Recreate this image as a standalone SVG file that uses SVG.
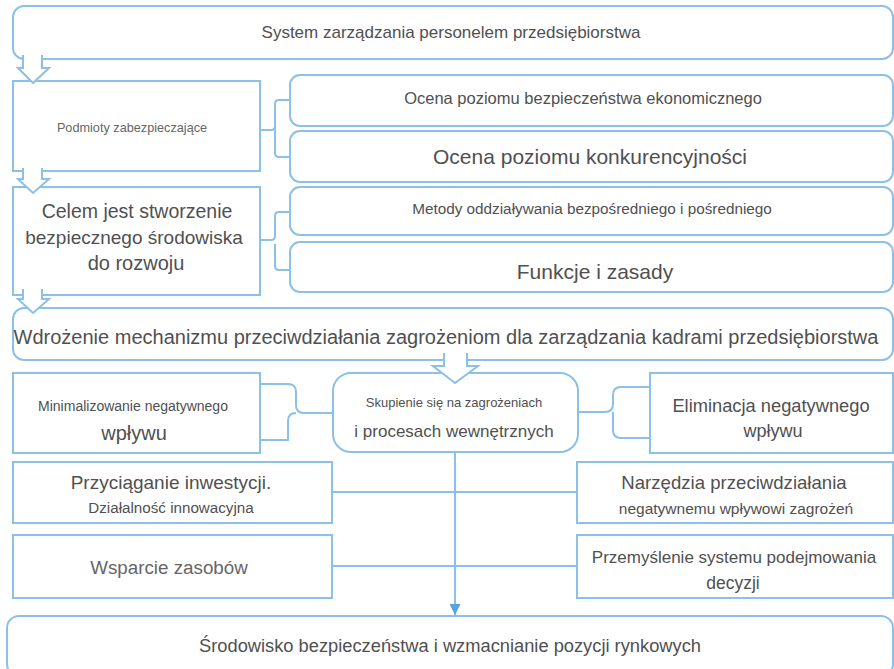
<svg xmlns="http://www.w3.org/2000/svg" width="894" height="669" viewBox="0 0 894 669">
<defs>
<style>
.box{fill:#fff;stroke:#8cc0e6;stroke-width:2}
.ln{fill:none;stroke:#8cc0e6;stroke-width:2}
.arr{fill:#fff;stroke:#8cc0e6;stroke-width:2;stroke-linejoin:miter}
text{font-family:"Liberation Sans",Arial,sans-serif;fill:#505050;text-anchor:middle}
.lt{fill:#666}
</style>
<marker id="tri" viewBox="0 0 10 10" refX="10" refY="5" markerWidth="13" markerHeight="11" markerUnits="userSpaceOnUse" orient="auto">
<path d="M0,0 L10,5 L0,10 Z" fill="#5aa3dc"/>
</marker>
</defs>
<rect width="894" height="669" fill="#fff"/>

<g id="connectors">
<path class="ln" d="M260,130 H271 Q275,130 275,126 V104 Q275,100 279,100 H290 M275,126 V153 Q275,157 279,157 H290"/>
<path class="ln" d="M260,240 H271 Q275,240 275,236 V216 Q275,212 279,212 H290 M275,244 V266 Q275,270 279,270 H290"/>
<path class="ln" d="M260,384 H288 Q296,384 296,392 V405 Q296,413 304,413 H333 M296,413 Q288,413 288,421 V440 H260"/>
<path class="ln" d="M578,412 H605 Q613,412 613,404 V395 Q613,387 621,387 H650 M613,412 Q613,420 613,428 V430 Q613,438 621,438 H650"/>
<path class="ln" d="M332,492 H577"/>
<path class="ln" d="M332,566 H577"/>
<path class="ln" d="M455,452 V615" marker-end="url(#tri)"/>
</g>

<g id="n-system">
<rect class="box" x="13" y="6" width="880" height="53" rx="11"/>
<text x="451" y="38" font-size="17">System zarządzania personelem przedsiębiorstwa</text>
</g>

<g id="n-podmioty">
<rect class="box" x="13" y="81" width="247" height="90"/>
<text class="lt" x="132" y="132" font-size="12.7">Podmioty zabezpieczające</text>
</g>

<g id="n-ocena1">
<rect class="box" x="290" y="75" width="603" height="51" rx="10"/>
<text x="583" y="104" font-size="16.5">Ocena poziomu bezpieczeństwa ekonomicznego</text>
</g>

<g id="n-ocena2">
<rect class="box" x="290" y="131" width="603" height="51" rx="10"/>
<text x="590" y="164" font-size="21">Ocena poziomu konkurencyjności</text>
</g>

<g id="n-celem">
<rect class="box" x="13" y="187" width="247" height="108"/>
<text x="137" y="218" font-size="19.5">Celem jest stworzenie</text>
<text x="134" y="244" font-size="19">bezpiecznego środowiska</text>
<text x="136" y="270" font-size="20">do rozwoju</text>
</g>

<g id="n-metody">
<rect class="box" x="290" y="187" width="603" height="48" rx="10"/>
<text x="592" y="214" font-size="15.3">Metody oddziaływania bezpośredniego i pośredniego</text>
</g>

<g id="n-funkcje">
<rect class="box" x="290" y="242" width="603" height="50" rx="10"/>
<text x="595" y="279" font-size="21">Funkcje i zasady</text>
</g>

<g id="n-wdrozenie">
<rect class="box" x="13" y="308" width="880" height="52" rx="11"/>
<text x="446" y="344" font-size="20">Wdrożenie mechanizmu przeciwdziałania zagrożeniom dla zarządzania kadrami przedsiębiorstwa</text>
</g>

<g id="n-skupienie">
<rect class="box" x="333" y="373" width="245" height="79" rx="18"/>
<text x="454" y="407" font-size="13">Skupienie się na zagrożeniach</text>
<text x="454" y="437" font-size="17">i procesach wewnętrznych</text>
</g>

<g id="n-minimal">
<rect class="box" x="13" y="373" width="247" height="80"/>
<text x="133" y="411" font-size="14">Minimalizowanie negatywnego</text>
<text x="134" y="440" font-size="20">wpływu</text>
</g>

<g id="n-eliminacja">
<rect class="box" x="650" y="373" width="243" height="80"/>
<text x="771" y="412" font-size="18.3">Eliminacja negatywnego</text>
<text x="773" y="437" font-size="18">wpływu</text>
</g>

<g id="n-przyciaganie">
<rect class="box" x="13" y="462" width="319" height="61"/>
<text x="171" y="489" font-size="19">Przyciąganie inwestycji.</text>
<text x="171" y="513" font-size="15.2">Działalność innowacyjna</text>
</g>

<g id="n-narzedzia">
<rect class="box" x="577" y="462" width="316" height="61"/>
<text x="734" y="489" font-size="18.6">Narzędzia przeciwdziałania</text>
<text x="736" y="514" font-size="15.5">negatywnemu wpływowi zagrożeń</text>
</g>

<g id="n-wsparcie">
<rect class="box" x="13" y="535" width="319" height="63"/>
<text class="lt" x="169" y="574" font-size="18.8">Wsparcie zasobów</text>
</g>

<g id="n-przemyslenie">
<rect class="box" x="577" y="535" width="316" height="63"/>
<text x="734" y="563" font-size="17">Przemyślenie systemu podejmowania</text>
<text x="733" y="589" font-size="17.5">decyzji</text>
</g>

<g id="n-srodowisko">
<rect class="box" x="7" y="616" width="886" height="60" rx="12"/>
<text x="450" y="652" font-size="18.3">Środowisko bezpieczeństwa i wzmacnianie pozycji rynkowych</text>
</g>

<g id="block-arrows">
<rect x="23" y="55" width="19" height="14" fill="#fff"/>
<path class="arr" d="M23,55 V68 H18 L33,83 L49,68 H42 V55"/>
<rect x="23" y="168" width="19" height="14" fill="#fff"/>
<path class="arr" d="M23,168 V179 H18 L33,193 L49,179 H42 V168"/>
<rect x="23" y="289" width="19" height="12" fill="#fff"/>
<path class="arr" d="M23,289 V299 H18 L33,313 L49,299 H42 V289"/>
<rect x="444" y="353" width="23" height="14" fill="#fff"/>
<path class="arr" d="M444,353 V366 H433 L455,383 L478,366 H467 V353"/>
</g>
</svg>
